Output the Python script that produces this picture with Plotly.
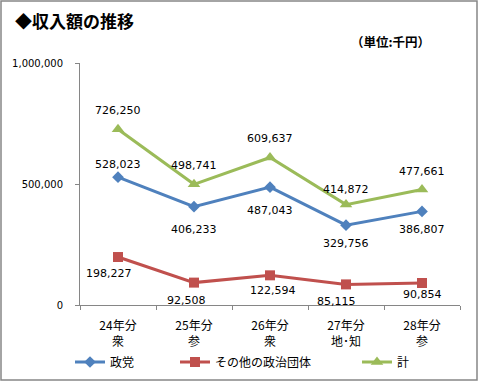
import plotly.graph_objects as go

categories = ["24年分<br>衆", "25年分<br>参", "26年分<br>衆", "27年分<br>地･知", "28年分<br>参"]
seitou = [528023, 406233, 487043, 329756, 386807]
sonota = [198227, 92508, 122594, 85115, 90854]
kei = [726250, 498741, 609637, 414872, 477661]
series_names = ["政党", "その他の政治団体", "計"]
y_ticks = [0, 500000, 1000000]
y_tick_labels = ["0", "500,000", "1,000,000"]

W, H = 480, 383
L, R, T, B = 80, 20, 63, 78
PW, PH = W - L - R, H - T - B


def px(x):
    return (x - L) / PW


def py(y):
    return (H - B - y) / PH


CJK = "Noto Sans CJK JP"
NUM = "DejaVu Sans"
colors = ["#4F81BD", "#C0504D", "#9BBB59"]
symbols = ["diamond", "square", "triangle-up"]
msizes = [9, 10, 11]
all_series = [seitou, sonota, kei]
# label offsets (pixels): positive = above
label_shift = [
    [13, -23, -23, -18, -18],
    [-16, -18, -15, -17, -11],
    [19, 19, 19, 15, 18],
]
label_xshift = [
    [0, 0, 0, 0, 0],
    [-9, -8, 3, -10, 0],
    [0, 0, 0, 0, 0],
]

fig = go.Figure()
for i, (name, vals) in enumerate(zip(series_names, all_series)):
    fig.add_trace(go.Scatter(
        x=categories, y=vals, name=name, mode="lines+markers",
        line=dict(color=colors[i], width=3),
        marker=dict(symbol=symbols[i], size=msizes[i], color=colors[i]),
        legend=["legend", "legend2", "legend3"][i],
        hoverinfo="skip",
    ))
    for j, v in enumerate(vals):
        fig.add_annotation(
            x=categories[j], y=v, text=f"{v:,}", showarrow=False,
            yshift=label_shift[i][j], xshift=label_xshift[i][j],
            font=dict(family=NUM, size=11, color="#000000"),
        )

fig.add_annotation(xref="paper", yref="paper", x=px(13), y=py(20), xanchor="left", yanchor="middle",
                   text="<b>◆収入額の推移</b>", showarrow=False,
                   font=dict(family=CJK, size=17, color="#000000"))
fig.add_annotation(xref="paper", yref="paper", x=px(349), y=py(42), xanchor="left", yanchor="middle",
                   text="<b>（単位:千円）</b>", showarrow=False,
                   font=dict(family=CJK, size=12.5, color="#000000"))

fig.add_shape(type="rect", xref="paper", yref="paper",
              x0=px(1), x1=px(477), y0=py(380), y1=py(1),
              line=dict(color="#868686", width=1.5), fillcolor="rgba(0,0,0,0)")

leg_common = dict(orientation="h", yanchor="middle", xanchor="left", y=py(362),
                  font=dict(family=CJK, size=12, color="#000000"), itemwidth=30,
                  bgcolor="rgba(0,0,0,0)", tracegroupgap=0)
fig.update_layout(
    width=W, height=H,
    margin=dict(l=L, r=R, t=T, b=B, autoexpand=False),
    paper_bgcolor="white", plot_bgcolor="white",
    showlegend=True,
    legend=dict(x=px(70), **leg_common),
    legend2=dict(x=px(175), **leg_common),
    legend3=dict(x=px(357), **leg_common),
    xaxis=dict(
        type="category", showline=True, linecolor="#868686", linewidth=1,
        ticks="outside", tickson="boundaries", ticklen=4, tickcolor="#868686",
        showgrid=False, range=[-0.5, 4.5], ticklabelstandoff=10,
        tickfont=dict(family=CJK, size=12, color="#000000"),
    ),
    yaxis=dict(
        range=[0, 1000000], tickvals=y_ticks, ticktext=y_tick_labels,
        showline=True, linecolor="#868686", linewidth=1,
        ticks="outside", ticklen=4, tickcolor="#868686",
        showgrid=False, zeroline=False, ticklabelstandoff=10,
        tickfont=dict(family=NUM, size=10, color="#000000"),
    ),
)

fig.write_html("out.html", config={"displayModeBar": False},
               post_script="document.body.style.margin='0';document.body.style.overflow='hidden';")
